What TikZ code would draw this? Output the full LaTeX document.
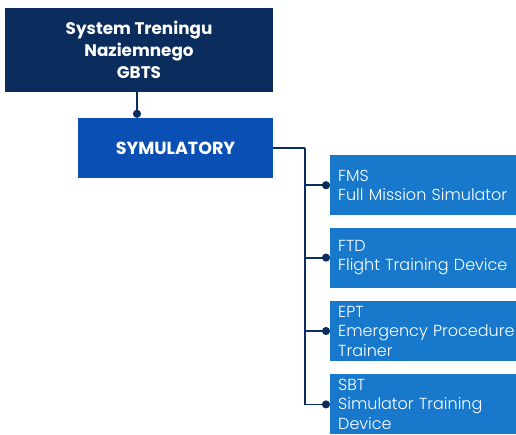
\documentclass[tikz,border=0pt]{standalone}
\usepackage{fontspec}
\setmainfont{Poppins}
\newfontfamily\leaffont{Poppins}[UprightFont=* Light]
\usepackage{tikz}
\usetikzlibrary{shapes,arrows,arrows.meta,positioning}
\definecolor{navy}{RGB}{11, 45, 94}
\definecolor{royal}{RGB}{10, 80, 180}
\definecolor{sky}{RGB}{24, 120, 204}
\tikzstyle{root} = [rectangle, fill=navy, text=white, align=center, font=\bfseries\fontsize{16.8}{22}\selectfont, minimum width=268pt, minimum height=84pt, inner sep=0pt]
\tikzstyle{group} = [rectangle, fill=royal, text=white, font=\bfseries\fontsize{17.5}{18}\selectfont, minimum width=195pt, minimum height=60pt, inner sep=0pt]
\tikzstyle{leaf} = [rectangle, fill=sky, text=white, align=left, font=\leaffont\fontsize{16}{19.5}\selectfont, text width=178pt, minimum height=60pt, inner xsep=8pt, inner ysep=0pt]
\tikzstyle{link} = [draw=navy, line width=1.8pt]
\tikzstyle{tedge}  = [link, -{Circle[length=8pt]}]

\begin{document}
\begin{tikzpicture}[auto]
\useasboundingbox (0,0) rectangle (516pt,-434pt);

% boxes =============================

% root and group
\node[root] (gbts) at (139pt,-50pt) {System Treningu\\Naziemnego\\GBTS};
\node[group] (sym) at (175.5pt,-148pt) {SYMULATORY};

% simulators
\node[leaf, anchor=north west] (fms) at (330pt,-155pt) {FMS\\Full Mission Simulator};
\node[leaf, below=12pt of fms] (ftd) {FTD\\Flight Training Device};
\node[leaf, below=13pt of ftd] (ept) {EPT\\Emergency Procedure\\Trainer};
\node[leaf, below=14pt of ept, yshift=1pt] (sbt) {SBT\\Simulator Training\\Device};

%edges
\path[tedge] ([xshift=-2pt]gbts.south) -- ([xshift=-2pt]gbts.south |- sym.north);
\path[link] (sym.east) -- ++(32pt,0) coordinate (bus);
\path[tedge] (bus) |- (sbt.west);
\path[tedge] (bus |- fms.west) -- (fms.west);
\path[tedge] (bus |- ftd.west) -- (ftd.west);
\path[tedge] (bus |- ept.west) -- (ept.west);

\end{tikzpicture}
\end{document}
